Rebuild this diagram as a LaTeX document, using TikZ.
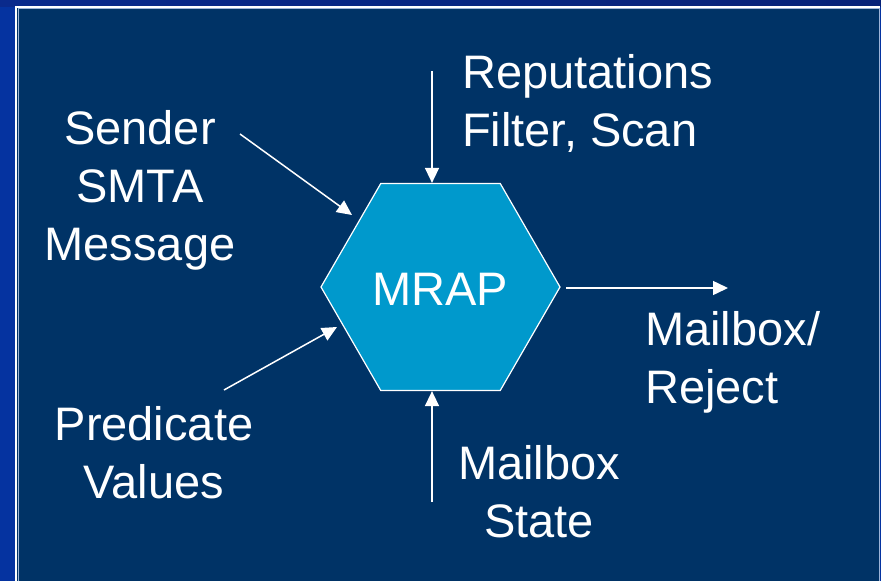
\documentclass[tikz,border=0pt]{standalone}
\usepackage{fontspec}
\setmainfont{Liberation Sans}
\usetikzlibrary{arrows.meta,shapes.geometric}
\definecolor{frameblue}{HTML}{0533A0}
\definecolor{topblueL}{HTML}{0A2A8C}
\definecolor{topblueR}{HTML}{062278}
\definecolor{panelnavy}{HTML}{003366}
\definecolor{edgeblue}{HTML}{9DB4D8}
\definecolor{hexfill}{HTML}{0099CC}
\tikzset{
  lbl/.style={text=white, inner sep=0pt, align=center,
    font=\fontsize{47}{58}\selectfont},
  flow/.style={draw=white, line width=1.5pt,
    -{Triangle[length=15pt,width=14pt]}},
}
\begin{document}
\begin{tikzpicture}[x=1pt,y=-1pt]
  \useasboundingbox (0,0) rectangle (881,581);
  % outer frame
  \fill[frameblue] (0,0) rectangle (881,581);
  \shade[left color=topblueL, right color=topblueR] (0,0) rectangle (881,6);
  % slide panel
  \fill[panelnavy] (15,6) rectangle (880,581);
  \draw[edgeblue, line width=1pt] (18,581) -- (18,8.5) -- (879.5,8.5) -- (879.5,581);
  \draw[white, line width=2pt] (16,581) -- (16,7) -- (880,7);

  % central process
  \node[regular polygon, regular polygon sides=6, shape border rotate=0,
        minimum size=239pt, inner sep=0pt, fill=hexfill, draw=white,
        line width=1.2pt] (hex) at (440.5,287) {};
  \node[lbl, anchor=base] (mrap) at (440,305) {MRAP};

  % labels (anchored at the baseline of their last line)
  \node[lbl, anchor=base west, align=left] (rep) at (462,146) {Reputations\\Filter, Scan};
  \node[lbl, anchor=base] (sender) at (140,260) {Sender\\SMTA\\Message};
  \node[lbl, anchor=base west, align=left] (outp) at (645,403) {Mailbox/\\Reject};
  \node[lbl, anchor=base] (pred) at (154,498) {Predicate\\Values};
  \node[lbl, anchor=base] (state) at (539,537) {Mailbox\\State};

  % connector ends
  \coordinate (repTail) at (432,71);
  \coordinate (stateTail) at (432,502);
  \coordinate (senderTail) at (240,134);
  \coordinate (senderTip) at (352,215);
  \coordinate (predTail) at (224,390);
  \coordinate (predTip) at (337,327);
  \coordinate (outTail) at (566,288);
  \coordinate (outTip) at (728,288);

  % connectors
  \draw[flow] (repTail) -- (repTail |- hex.north);
  \draw[flow] (stateTail) -- (stateTail |- hex.south);
  \draw[flow] (senderTail) -- (senderTip);
  \draw[flow] (predTail) -- (predTip);
  \draw[flow] (outTail) -- (outTip);
\end{tikzpicture}
\end{document}
